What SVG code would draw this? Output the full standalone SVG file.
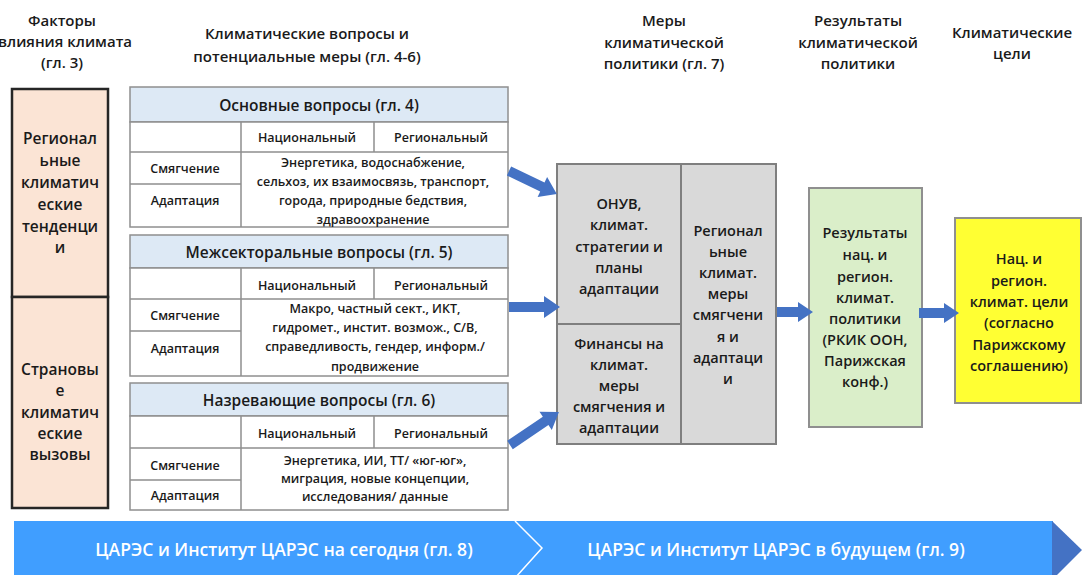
<svg xmlns="http://www.w3.org/2000/svg" width="1082" height="575" viewBox="0 0 1082 575">
  <style>
    text { font-family: "Open Sans", "Liberation Sans", sans-serif; fill: #1a1a1a; text-anchor: middle; dominant-baseline: central; }
    .hdr { font-size: 15px; font-weight: 600; }
    .side { font-size: 15.5px; font-weight: 600; }
    .th { font-size: 15.5px; font-weight: 600; }
    .cell { font-size: 12.5px; font-weight: 600; }
    .box { font-size: 14.5px; font-weight: 600; }
    .band { font-size: 17.5px; font-weight: 600; fill: #ffffff; }
    .grid { fill: none; stroke: #8f8f8f; stroke-width: 1.5; }
    .thead { fill: #dde9f5; stroke: #8f8f8f; stroke-width: 1.5; }
    .tbody { fill: #ffffff; stroke: #8f8f8f; stroke-width: 1.5; }
    .factor { fill: #fbe4d5; stroke: #262626; stroke-width: 2.5; }
    .measure { fill: #d9d9d9; stroke: #7f7f7f; stroke-width: 2; }
    .arrow { fill: #4472c4; }
  </style>

  <!-- column headings -->
  <g id="headings">
    <text class="hdr" x="62" y="20">Факторы</text>
    <text class="hdr" x="65" y="41">влияния климата</text>
    <text class="hdr" x="62" y="62">(гл. 3)</text>
    <text class="hdr" x="307" y="33">Климатические вопросы и</text>
    <text class="hdr" x="307" y="56">потенциальные меры (гл. 4-6)</text>
    <text class="hdr" x="664" y="20">Меры</text>
    <text class="hdr" x="664" y="42">климатической</text>
    <text class="hdr" x="664" y="63">политики (гл. 7)</text>
    <text class="hdr" x="858" y="20">Результаты</text>
    <text class="hdr" x="858" y="42">климатической</text>
    <text class="hdr" x="858" y="63">политики</text>
    <text class="hdr" x="1012" y="32">Климатические</text>
    <text class="hdr" x="1012" y="53">цели</text>
  </g>

  <!-- climate drivers -->
  <g id="node-regional-trends">
    <rect class="factor" x="12" y="89" width="96" height="208"/>
    <text class="side" x="60" y="138">Регионал</text>
    <text class="side" x="60" y="160">ьные</text>
    <text class="side" x="60" y="182">климатич</text>
    <text class="side" x="60" y="204">еские</text>
    <text class="side" x="60" y="226">тенденци</text>
    <text class="side" x="60" y="247">и</text>
  </g>
  <g id="node-country-challenges">
    <rect class="factor" x="12" y="297" width="96" height="211"/>
    <text class="side" x="60" y="369">Страновы</text>
    <text class="side" x="60" y="390">е</text>
    <text class="side" x="60" y="412">климатич</text>
    <text class="side" x="60" y="433">еские</text>
    <text class="side" x="60" y="454">вызовы</text>
  </g>

  <!-- issue tables -->
  <g id="node-core-issues">
    <rect class="thead" x="130" y="87" width="378" height="35"/>
    <rect class="tbody" x="130" y="122" width="378" height="105"/>
    <path class="grid" d="M130 152H508 M130 184H241 M241 122V227 M374 122V152"/>
    <text class="th" x="319" y="105">Основные вопросы (гл. 4)</text>
    <text class="cell" x="307" y="137">Национальный</text>
    <text class="cell" x="441" y="137">Региональный</text>
    <text class="cell" x="185" y="168">Смягчение</text>
    <text class="cell" x="185" y="200">Адаптация</text>
    <text class="cell" x="373" y="162">Энергетика, водоснабжение,</text>
    <text class="cell" x="373" y="181">сельхоз, их взаимосвязь, транспорт,</text>
    <text class="cell" x="373" y="200">города, природные бедствия,</text>
    <text class="cell" x="373" y="219">здравоохранение</text>
  </g>

  <g id="node-crosscutting-issues">
    <rect class="thead" x="130" y="235" width="378" height="33"/>
    <rect class="tbody" x="130" y="268" width="378" height="108"/>
    <path class="grid" d="M130 299H508 M130 331H241 M241 268V376 M374 268V299"/>
    <text class="th" x="319" y="252">Межсекторальные вопросы (гл. 5)</text>
    <text class="cell" x="307" y="285">Национальный</text>
    <text class="cell" x="441" y="285">Региональный</text>
    <text class="cell" x="185" y="315">Смягчение</text>
    <text class="cell" x="185" y="348">Адаптация</text>
    <text class="cell" x="375" y="308">Макро, частный сект., ИКТ,</text>
    <text class="cell" x="375" y="327">гидромет., инстит. возмож., С/В,</text>
    <text class="cell" x="375" y="346">справедливость, гендер, информ./</text>
    <text class="cell" x="375" y="366">продвижение</text>
  </g>

  <g id="node-emerging-issues">
    <rect class="thead" x="130" y="383" width="378" height="33"/>
    <rect class="tbody" x="130" y="416" width="378" height="94"/>
    <path class="grid" d="M130 448H508 M130 480H241 M241 416V510 M374 416V448"/>
    <text class="th" x="319" y="400">Назревающие вопросы (гл. 6)</text>
    <text class="cell" x="307" y="433">Национальный</text>
    <text class="cell" x="441" y="433">Региональный</text>
    <text class="cell" x="185" y="465">Смягчение</text>
    <text class="cell" x="185" y="495">Адаптация</text>
    <text class="cell" x="375" y="460">Энергетика, ИИ, ТТ/ «юг-юг»,</text>
    <text class="cell" x="375" y="478">миграция, новые концепции,</text>
    <text class="cell" x="375" y="496">исследования/ данные</text>
  </g>

  <!-- policy measures -->
  <g id="node-ndc-plans">
    <rect class="measure" x="557" y="164" width="124" height="160"/>
    <text class="box" x="619" y="203">ОНУВ,</text>
    <text class="box" x="619" y="224">климат.</text>
    <text class="box" x="619" y="246">стратегии и</text>
    <text class="box" x="619" y="267">планы</text>
    <text class="box" x="619" y="288">адаптации</text>
  </g>
  <g id="node-climate-finance">
    <rect class="measure" x="557" y="324" width="124" height="120"/>
    <text class="box" x="619" y="343">Финансы на</text>
    <text class="box" x="619" y="364">климат.</text>
    <text class="box" x="619" y="385">меры</text>
    <text class="box" x="619" y="406">смягчения и</text>
    <text class="box" x="619" y="427">адаптации</text>
  </g>
  <g id="node-regional-measures">
    <rect class="measure" x="681" y="164" width="95" height="280"/>
    <text class="box" x="728" y="230">Регионал</text>
    <text class="box" x="728" y="251">ьные</text>
    <text class="box" x="728" y="272">климат.</text>
    <text class="box" x="728" y="293">меры</text>
    <text class="box" x="728" y="314">смягчени</text>
    <text class="box" x="728" y="336">я и</text>
    <text class="box" x="728" y="357">адаптаци</text>
    <text class="box" x="728" y="378">и</text>
  </g>

  <!-- policy results -->
  <g id="node-policy-results">
    <rect x="809" y="188" width="113" height="239" fill="#daeec9" stroke="#8f8f8f" stroke-width="2"/>
    <text class="box" x="865" y="232">Результаты</text>
    <text class="box" x="865" y="254">нац. и</text>
    <text class="box" x="865" y="276">регион.</text>
    <text class="box" x="865" y="297">климат.</text>
    <text class="box" x="865" y="318">политики</text>
    <text class="box" x="865" y="339">(РКИК ООН,</text>
    <text class="box" x="865" y="360">Парижская</text>
    <text class="box" x="865" y="381">конф.)</text>
  </g>

  <!-- climate goals -->
  <g id="node-climate-goals">
    <rect x="955" y="218" width="126" height="185" fill="#ffff33" stroke="#8f8f8f" stroke-width="2"/>
    <text class="box" x="1019" y="258">Нац. и</text>
    <text class="box" x="1019" y="280">регион.</text>
    <text class="box" x="1019" y="301">климат. цели</text>
    <text class="box" x="1019" y="322">(согласно</text>
    <text class="box" x="1019" y="344">Парижскому</text>
    <text class="box" x="1019" y="365">соглашению)</text>
  </g>

  <!-- block arrows -->
  <g id="connectors">
    <polygon class="arrow" transform="translate(509,171) rotate(25.6)" points="0,-5 37,-5 37,-11 53,0 37,11 37,5 0,5"/>
    <polygon class="arrow" transform="translate(509,307)" points="0,-5 35,-5 35,-11 51,0 35,11 35,5 0,5"/>
    <polygon class="arrow" transform="translate(510,445) rotate(-34)" points="0,-5 43,-5 43,-11 59,0 43,11 43,5 0,5"/>
    <polygon class="arrow" transform="translate(777,312)" points="0,-5 21,-5 21,-10 36,0 21,10 21,5 0,5"/>
    <polygon class="arrow" transform="translate(919,313)" points="0,-5 25,-5 25,-10 40,0 25,10 25,5 0,5"/>
  </g>

  <!-- CAREC timeline band -->
  <g id="node-carec-band">
    <rect x="14" y="521" width="1039" height="59" fill="#409eff"/>
    <polygon points="1052,521 1082,550 1052,580" fill="#4472c4"/>
    <polyline points="515,521 542,548 515,578" fill="none" stroke="#ffffff" stroke-width="1.5"/>
    <text class="band" x="284" y="549">ЦАРЭС и Институт ЦАРЭС на сегодня (гл. 8)</text>
    <text class="band" x="776" y="549">ЦАРЭС и Институт ЦАРЭС в будущем (гл. 9)</text>
  </g>
</svg>
